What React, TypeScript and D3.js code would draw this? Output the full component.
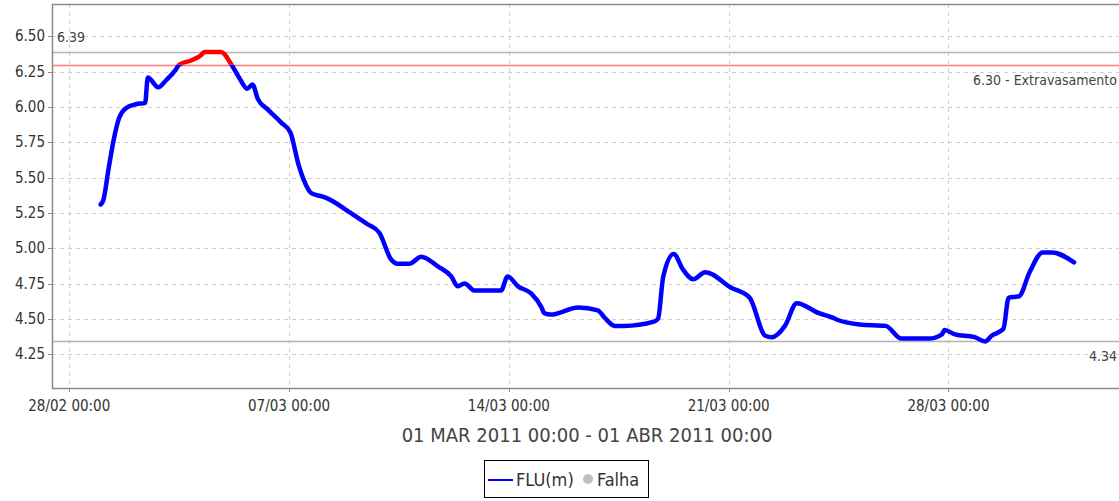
import React, { useEffect, useRef } from "react";
import * as d3 from "d3";

// FLU(m) level, hours after 01/03/2011 00:00
const startDate = "2011-03-01T00:00:00Z";
const hours = [
  0, 2, 6, 10, 14, 19, 27, 34, 36, 44, 50, 57, 60, 69, 77, 79, 92, 100, 107, 112, 116, 120, 128, 138, 145, 151,
  155, 161, 168, 174, 191, 204, 213, 222, 227, 236, 245, 258, 268, 273, 278, 286, 296, 306, 311, 319, 329, 337,
  339, 344, 365, 380, 385, 393, 400, 423, 426, 430, 438, 445, 453, 462, 482, 496, 508, 513, 523, 532, 549, 559,
  564, 580, 600, 612, 633, 643, 645, 653, 668, 676, 681, 690, 694, 702, 710, 720, 727, 744,
];
const flu = [
  5.31, 5.34, 5.56, 5.77, 5.92, 5.99, 6.02, 6.03, 6.21, 6.14, 6.19, 6.26, 6.3, 6.33, 6.37, 6.39, 6.39, 6.3,
  6.19, 6.13, 6.16, 6.06, 5.98, 5.89, 5.82, 5.6, 5.49, 5.39, 5.37, 5.35, 5.25, 5.17, 5.11, 4.92, 4.89, 4.89,
  4.94, 4.87, 4.8, 4.73, 4.75, 4.7, 4.7, 4.7, 4.8, 4.73, 4.68, 4.58, 4.54, 4.53, 4.58, 4.56, 4.51, 4.45, 4.45,
  4.48, 4.5, 4.8, 4.96, 4.85, 4.78, 4.83, 4.72, 4.65, 4.38, 4.37, 4.45, 4.61, 4.54, 4.51, 4.49, 4.46, 4.45,
  4.36, 4.36, 4.39, 4.42, 4.39, 4.37, 4.34, 4.38, 4.43, 4.65, 4.66, 4.83, 4.97, 4.97, 4.9,
];

const yTicks = [4.25, 4.5, 4.75, 5.0, 5.25, 5.5, 5.75, 6.0, 6.25, 6.5];
const xTickDates = ["2011-02-28", "2011-03-07", "2011-03-14", "2011-03-21", "2011-03-28"];
const refValues = [6.39, 6.3, 4.34];
const refLabels = ["6.39", "6.30 - Extravasamento", "4.34"];
const limite = 6.3;
const titulo = "01 MAR 2011 00:00 - 01 ABR 2011 00:00";
const legendItems = ["FLU(m)", "Falha"];

const W = 1119,
  H = 501;
const font = "'DejaVu Sans Condensed', 'DejaVu Sans', sans-serif";

export default function App() {
  const ref = useRef<SVGSVGElement>(null);

  useEffect(() => {
    const svg = d3.select(ref.current);
    svg.selectAll("*").remove();

    const left = 52,
      top = 4,
      bottom = 388;
    const t0 = new Date(startDate).getTime();
    const data = hours.map((h, i) => ({ date: new Date(t0 + h * 3600000), v: flu[i] }));
    const dayMs = 86400000;
    const first = data[0].date.getTime(),
      last = data[data.length - 1].date.getTime();
    const pad = (last - first) * 0.05;

    const x = d3
      .scaleUtc()
      .domain([new Date(first - pad), new Date(last + pad)])
      .range([left, left + ((last - first + 2 * pad) / dayMs) * 31.4]);
    const y = d3.scaleLinear().domain([4.01, 6.73]).range([bottom, top]);
    const right = W;

    const grid = svg.append("g");
    grid
      .selectAll(".hg")
      .data(yTicks)
      .join("line")
      .attr("x1", left)
      .attr("x2", right)
      .attr("y1", (d) => Math.round(y(d)) + 0.5)
      .attr("y2", (d) => Math.round(y(d)) + 0.5)
      .attr("stroke", "#d0d0d0")
      .attr("stroke-dasharray", "4,4");
    const xTicks = xTickDates.map((s) => new Date(s + "T00:00:00Z"));
    grid
      .selectAll(".vg")
      .data(xTicks)
      .join("line")
      .attr("x1", (d) => Math.round(x(d)) + 0.5)
      .attr("x2", (d) => Math.round(x(d)) + 0.5)
      .attr("y1", top)
      .attr("y2", bottom)
      .attr("stroke", "#d0d0d0")
      .attr("stroke-dasharray", "4,4");

    // reference lines
    const refColors = ["#b4b4b4", "#ff7a7a", "#b4b4b4"];
    svg
      .append("g")
      .selectAll("line")
      .data(refValues)
      .join("line")
      .attr("x1", left)
      .attr("x2", right)
      .attr("y1", (d) => Math.round(y(d)) + 0.5)
      .attr("y2", (d) => Math.round(y(d)) + 0.5)
      .style("stroke", (d, i) => refColors[i])
      .attr("stroke-width", 1.4);

    const lbl = svg.append("g").style("font-family", font).style("font-size", "14px").attr("fill", "#444");
    lbl.append("text").attr("x", left + 5).attr("y", y(refValues[0]) - 10).text(refLabels[0]);
    lbl
      .append("text")
      .attr("x", W - 2)
      .attr("y", y(refValues[1]) + 20)
      .attr("text-anchor", "end")
      .text(refLabels[1]);
    lbl
      .append("text")
      .attr("x", W - 2)
      .attr("y", y(refValues[2]) + 20)
      .attr("text-anchor", "end")
      .text(refLabels[2]);

    // series, red above limit
    const line = d3
      .line<{ date: Date; v: number }>()
      .x((d) => x(d.date))
      .y((d) => y(d.v))
      .curve(d3.curveMonotoneX);
    const defs = svg.append("defs");
    defs
      .append("clipPath")
      .attr("id", "abaixo")
      .append("rect")
      .attr("x", 0)
      .attr("y", y(limite))
      .attr("width", W)
      .attr("height", H);
    defs
      .append("clipPath")
      .attr("id", "acima")
      .append("rect")
      .attr("x", 0)
      .attr("y", 0)
      .attr("width", W)
      .attr("height", y(limite));
    [
      ["abaixo", "#0000ff"],
      ["acima", "#ff0000"],
    ].forEach(([id, c]) => {
      svg
        .append("path")
        .datum(data)
        .attr("d", line)
        .attr("fill", "none")
        .attr("stroke", c)
        .attr("stroke-width", 4.5)
        .attr("stroke-linejoin", "round")
        .attr("stroke-linecap", "round")
        .attr("clip-path", `url(#${id})`);
    });

    // axes frame
    svg
      .append("path")
      .attr("d", `M${right},${top + 0.5}H${left + 0.5}V${bottom + 0.5}H${right}`)
      .attr("fill", "none")
      .attr("stroke", "#8a8a8a")
      .attr("stroke-width", 1.5);

    const yAxis = svg.append("g").style("font-family", font).style("font-size", "15px").attr("fill", "#333");
    yAxis
      .selectAll("line")
      .data(yTicks)
      .join("line")
      .attr("x1", left - 4)
      .attr("x2", left)
      .attr("y1", (d) => Math.round(y(d)) + 0.5)
      .attr("y2", (d) => Math.round(y(d)) + 0.5)
      .attr("stroke", "#8a8a8a");
    yAxis
      .selectAll("text")
      .data(yTicks)
      .join("text")
      .attr("x", left - 7)
      .attr("y", (d) => y(d) + 5)
      .attr("text-anchor", "end")
      .text((d) => d3.format(".2f")(d));

    const fmt = d3.utcFormat("%d/%m %H:%M");
    const xAxis = svg.append("g").style("font-family", font).style("font-size", "15px").attr("fill", "#333");
    xAxis
      .selectAll("line")
      .data(xTicks)
      .join("line")
      .attr("x1", (d) => Math.round(x(d)) + 0.5)
      .attr("x2", (d) => Math.round(x(d)) + 0.5)
      .attr("y1", bottom)
      .attr("y2", bottom + 4)
      .attr("stroke", "#8a8a8a");
    xAxis
      .selectAll("text")
      .data(xTicks)
      .join("text")
      .attr("x", (d) => x(d))
      .attr("y", bottom + 23)
      .attr("text-anchor", "middle")
      .text((d) => fmt(d));

    svg
      .append("text")
      .attr("x", 587)
      .attr("y", 442)
      .attr("text-anchor", "middle")
      .style("font-family", font)
      .style("font-size", "20px")
      .attr("fill", "#444")
      .text(titulo);

    // legend
    const lg = svg.append("g").style("font-family", font).style("font-size", "18px");
    lg.append("rect").attr("x", 484.5).attr("y", 460.5).attr("width", 164).attr("height", 37).attr("fill", "#fff").attr("stroke", "#000");
    lg.append("line").attr("x1", 488).attr("x2", 513).attr("y1", 480).attr("y2", 480).attr("stroke", "#0000ff").attr("stroke-width", 2);
    lg.append("text").attr("x", 516).attr("y", 486).attr("fill", "#333").text(legendItems[0]);
    lg.append("circle").attr("cx", 588).attr("cy", 479).attr("r", 5).attr("fill", "#c0c0c0");
    lg.append("text").attr("x", 597).attr("y", 486).attr("fill", "#333").text(legendItems[1]);
  }, []);

  return (
    <div style={{ position: "absolute", left: 0, top: 0 }}>
      <svg ref={ref} width={W} height={H} style={{ display: "block", background: "#fff" }} />
    </div>
  );
}
